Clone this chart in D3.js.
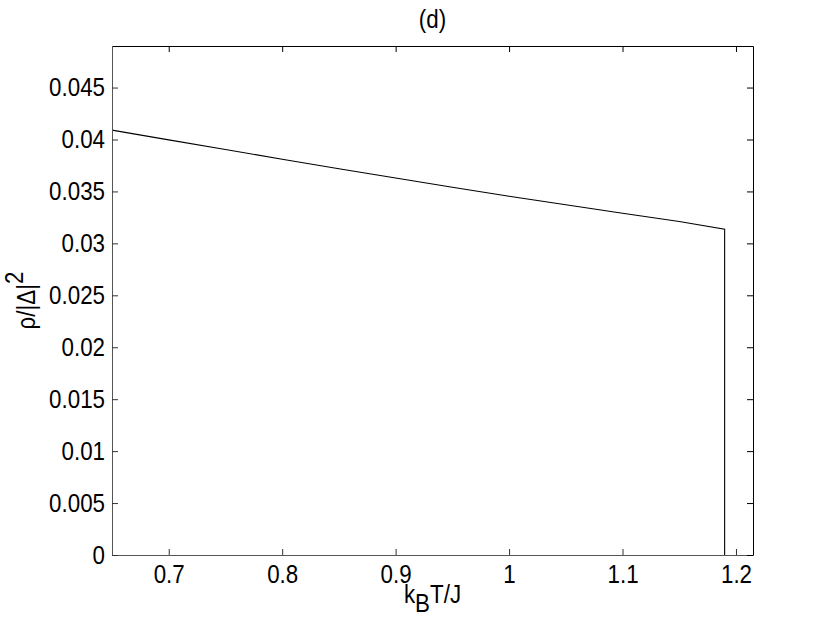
<!DOCTYPE html>
<html>
<head>
<meta charset="utf-8">
<script src="https://cdn.jsdelivr.net/npm/d3@7"></script>
<style>
  body { margin: 0; background: #fff; }
  text { font-family: "Liberation Sans", Arial, Helvetica, sans-serif; fill: #000; }
</style>
</head>
<body>
<svg id="chart" width="830" height="624"></svg>
<script>
// data
const temps = [0.65, 0.70, 0.75, 0.80, 0.85, 0.90, 0.95, 1.00, 1.05, 1.10, 1.15, 1.19, 1.19];
const rho   = [0.0409, 0.03996, 0.03904, 0.0381, 0.03718, 0.0363, 0.03541, 0.03454, 0.03371, 0.0329, 0.03211, 0.03137, 0];

const xTicks = [0.7, 0.8, 0.9, 1.0, 1.1, 1.2];
const yTicks = [0, 0.005, 0.01, 0.015, 0.02, 0.025, 0.03, 0.035, 0.04, 0.045];

const svg = d3.select('#chart');
const margin = { top: 46, right: 77, bottom: 69, left: 112 };
const width = 830 - margin.left - margin.right;
const height = 624 - margin.top - margin.bottom;

const x = d3.scaleLinear().domain([0.65, 1.215]).range([0, width]);
const y = d3.scaleLinear().domain([0, 0.049]).range([height, 0]);

// the original text is a bit squeezed horizontally
const SQ = 0.86;
const fontSize = '26px';

const g = svg.append('g')
    .attr('transform', `translate(${margin.left},${margin.top})`);

// curve
const pts = temps.map((t, i) => [t, rho[i]]);
g.append('path')
    .datum(pts)
    .attr('fill', 'none')
    .attr('stroke', '#000')
    .attr('stroke-width', 1.1)
    .attr('d', d3.line().x(d => x(d[0])).y(d => y(d[1])));

// bottom axis, ticks point inward
const xAxis = g.append('g')
    .attr('transform', `translate(0,${height})`)
    .call(d3.axisBottom(x).tickValues(xTicks).tickSizeInner(-6).tickSizeOuter(0)
        .tickFormat(d => d3.format('')(+d.toFixed(1))));
xAxis.select('.domain').attr('stroke', '#555');
xAxis.selectAll('.tick line').attr('stroke', '#333');
xAxis.selectAll('text')
    .style('font-size', fontSize)
    .attr('y', 10)
    .attr('dy', '0.71em')
    .attr('transform', `scale(${SQ},1)`);

// left axis
const yAxis = g.append('g')
    .call(d3.axisLeft(y).tickValues(yTicks).tickSizeInner(-6).tickSizeOuter(0)
        .tickFormat(d => d === 0 ? '0' : d3.format('')(+d.toFixed(3))));
yAxis.select('.domain').attr('stroke', '#555');
yAxis.selectAll('.tick line').attr('stroke', '#333');
yAxis.selectAll('text')
    .style('font-size', fontSize)
    .attr('x', -7 / SQ)
    .attr('transform', `scale(${SQ},1)`);

// mirrored ticks on top and right
const topAxis = g.append('g')
    .call(d3.axisTop(x).tickValues(xTicks).tickSizeInner(-6).tickSizeOuter(0).tickFormat(''));
topAxis.select('.domain').attr('stroke', '#000');
const rightAxis = g.append('g')
    .attr('transform', `translate(${width},0)`)
    .call(d3.axisRight(y).tickValues(yTicks).tickSizeInner(-6).tickSizeOuter(0).tickFormat(''));
rightAxis.select('.domain').attr('stroke', '#000');

// title
svg.append('text')
    .attr('transform', `translate(${margin.left + width / 2},28) scale(${SQ},1)`)
    .attr('text-anchor', 'middle')
    .style('font-size', '26px')
    .text('(d)');

// x label  k_B T/J
const xl = svg.append('text')
    .attr('transform', `translate(${margin.left + width / 2},603) scale(${SQ},1)`)
    .attr('text-anchor', 'middle')
    .style('font-size', fontSize);
xl.append('tspan').text('k');
xl.append('tspan').attr('dy', 9).text('B');
xl.append('tspan').attr('dy', -9).text('T/J');

// y label  rho/|Delta|^2
const yl = svg.append('text')
    .attr('transform', `translate(35,${margin.top + height / 2}) rotate(-90) scale(${SQ},1)`)
    .attr('text-anchor', 'middle')
    .style('font-size', fontSize);
yl.append('tspan').text('ρ/|Δ|');
yl.append('tspan').attr('dy', -12).text('2');
</script>
</body>
</html>
